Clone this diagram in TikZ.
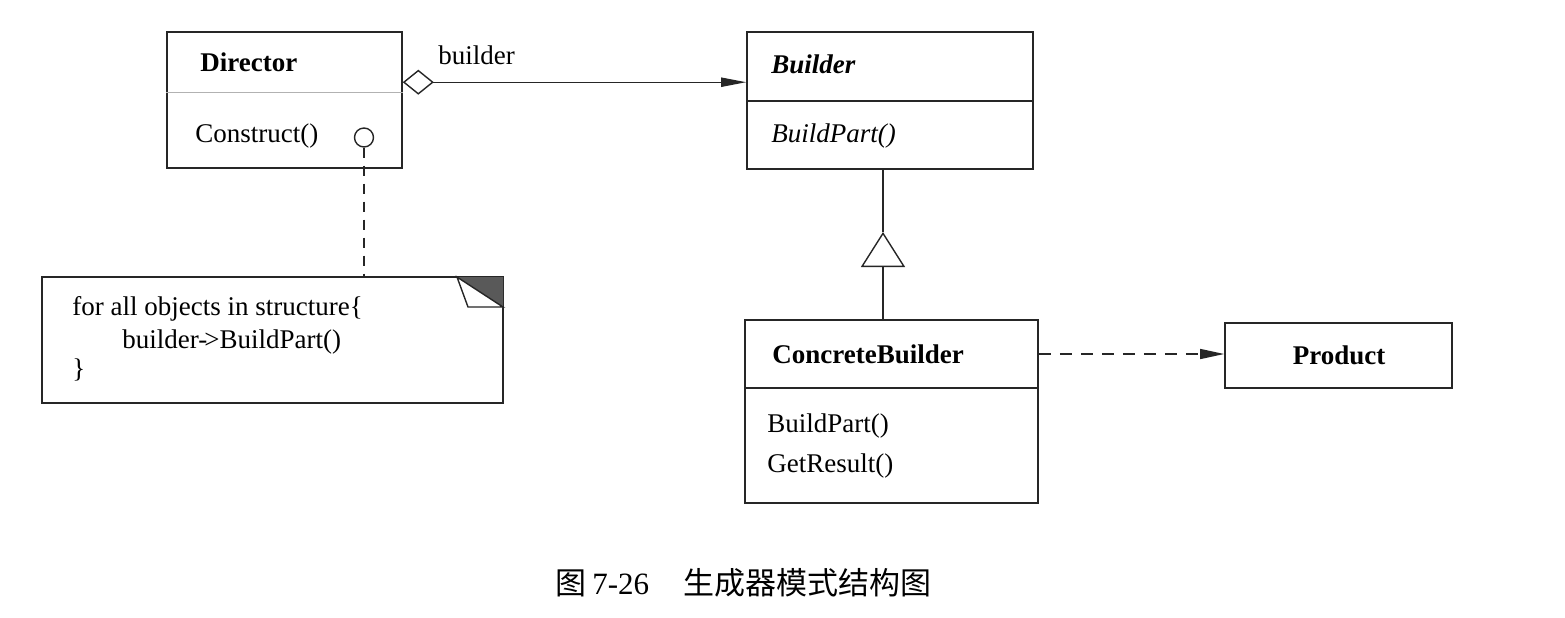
\documentclass[tikz,border=0pt]{standalone}
\usepackage{fontspec}
\setmainfont{Liberation Serif}
\newfontfamily\cjk{Noto Sans CJK SC}
\usepackage{tikz}
\usetikzlibrary{arrows.meta, positioning, calc, fit}

\begin{document}
\begin{tikzpicture}[
    x=0.5pt, y=-0.5pt,
    every node/.style={font=\fontsize{13.5}{16}\selectfont},
    classbox/.style={rectangle, draw=black!85, line width=0.8pt, inner sep=0pt},
    notebox/.style={rectangle, draw=black!85, line width=0.8pt, inner sep=0pt},
    member/.style={anchor=base west, inner sep=0pt},
    sepline/.style={draw=black!30, line width=0.5pt},
    aggr/.style={draw=black!85, line width=0.7pt, {Diamond[open, length=15.5pt, width=12.5pt]}-{Triangle[length=12.5pt, width=4.6pt]}},
    inherit/.style={draw=black!85, line width=0.7pt, -{Triangle[open, length=17.5pt, width=22pt]}},
    depend/.style={draw=black!85, line width=0.7pt, dash pattern=on 6pt off 4.5pt, -{Triangle[length=12pt, width=5pt]}},
    notelink/.style={draw=black!85, line width=0.7pt, dash pattern=on 5pt off 4pt},
]
\useasboundingbox (0,0) rectangle (1565,617);

% classes
\node[classbox, fit={(167,32) (402,168)}] (director) {};
\draw[sepline] (director.west |- 0,92) -- (director.east |- 0,92);
\node[member, font=\fontsize{13.5}{16}\selectfont\bfseries] (directorname) at (200,71) {Director};
\node[member] (construct) at (195,142) {Construct()};
\node[circle, draw=black!85, line width=0.7pt, minimum size=9.5pt, inner sep=0pt] (hook) at (364,137.5) {};

\node[classbox, fit={(747,32) (1033,101)}] (builder) {};
\node[classbox, fit={(747,101) (1033,169)}] (builderops) {};
\node[member, font=\fontsize{13.5}{16}\selectfont\bfseries\itshape] (buildername) at (771,73) {Builder};
\node[member, font=\fontsize{13.5}{16}\selectfont\itshape] (buildpartabs) at (771,142) {BuildPart()};

\node[classbox, fit={(745,320) (1038,388)}] (concrete) {};
\node[classbox, fit={(745,388) (1038,503)}] (concreteops) {};
\node[member, font=\fontsize{13.5}{16}\selectfont\bfseries] (concretename) at (772,363) {ConcreteBuilder};
\node[member] (buildpart) at (767,432) {BuildPart()};
\node[member] (getresult) at (767,472) {GetResult()};

\node[classbox, fit={(1225,323) (1452,388)}] (product) {};
\node[anchor=base, inner sep=0pt, font=\fontsize{13.5}{16}\selectfont\bfseries] (productname) at (1339,364) {Product};

% note
\node[notebox, fit={(42,277) (503,403)}] (note) {};
\fill[black!65] (457,277) -- (503,277) -- (503,307) -- cycle;
\draw[black!85, line width=0.7pt, fill=white] (457,277) -- (468,307) -- (503,307) -- cycle;
\node[member] (notel1) at (72,315) {for all objects in structure\{};
\node[member] (notel2) at (122,348) {builder-\kern-1.5pt>BuildPart()};
\node[member] (notel3) at (72,377) {\}};

% connectors
\coordinate (genapex) at (883,232);
\draw[aggr] ([yshift=-25.5pt]director.north east) -- ([yshift=-25.5pt]director.north east -| builder.west);
\node[member] (rolelabel) at (438,64) {builder};
\draw[inherit] (concrete.north -| genapex) -- (genapex);
\draw[draw=black!85, line width=0.7pt] (genapex) -- (builderops.south -| genapex);
\draw[depend] (concrete.east) -- (concrete.east -| product.west);
\draw[notelink] (hook) -- (hook |- note.north);

% caption
\node[anchor=base west, inner sep=0pt, font=\fontsize{15.5}{18}\selectfont] (caption) at (555,594)
    {{\cjk 图}\kern3pt 7-26\hspace{1.1em}{\cjk 生成器模式结构图}};
\end{tikzpicture}
\end{document}
